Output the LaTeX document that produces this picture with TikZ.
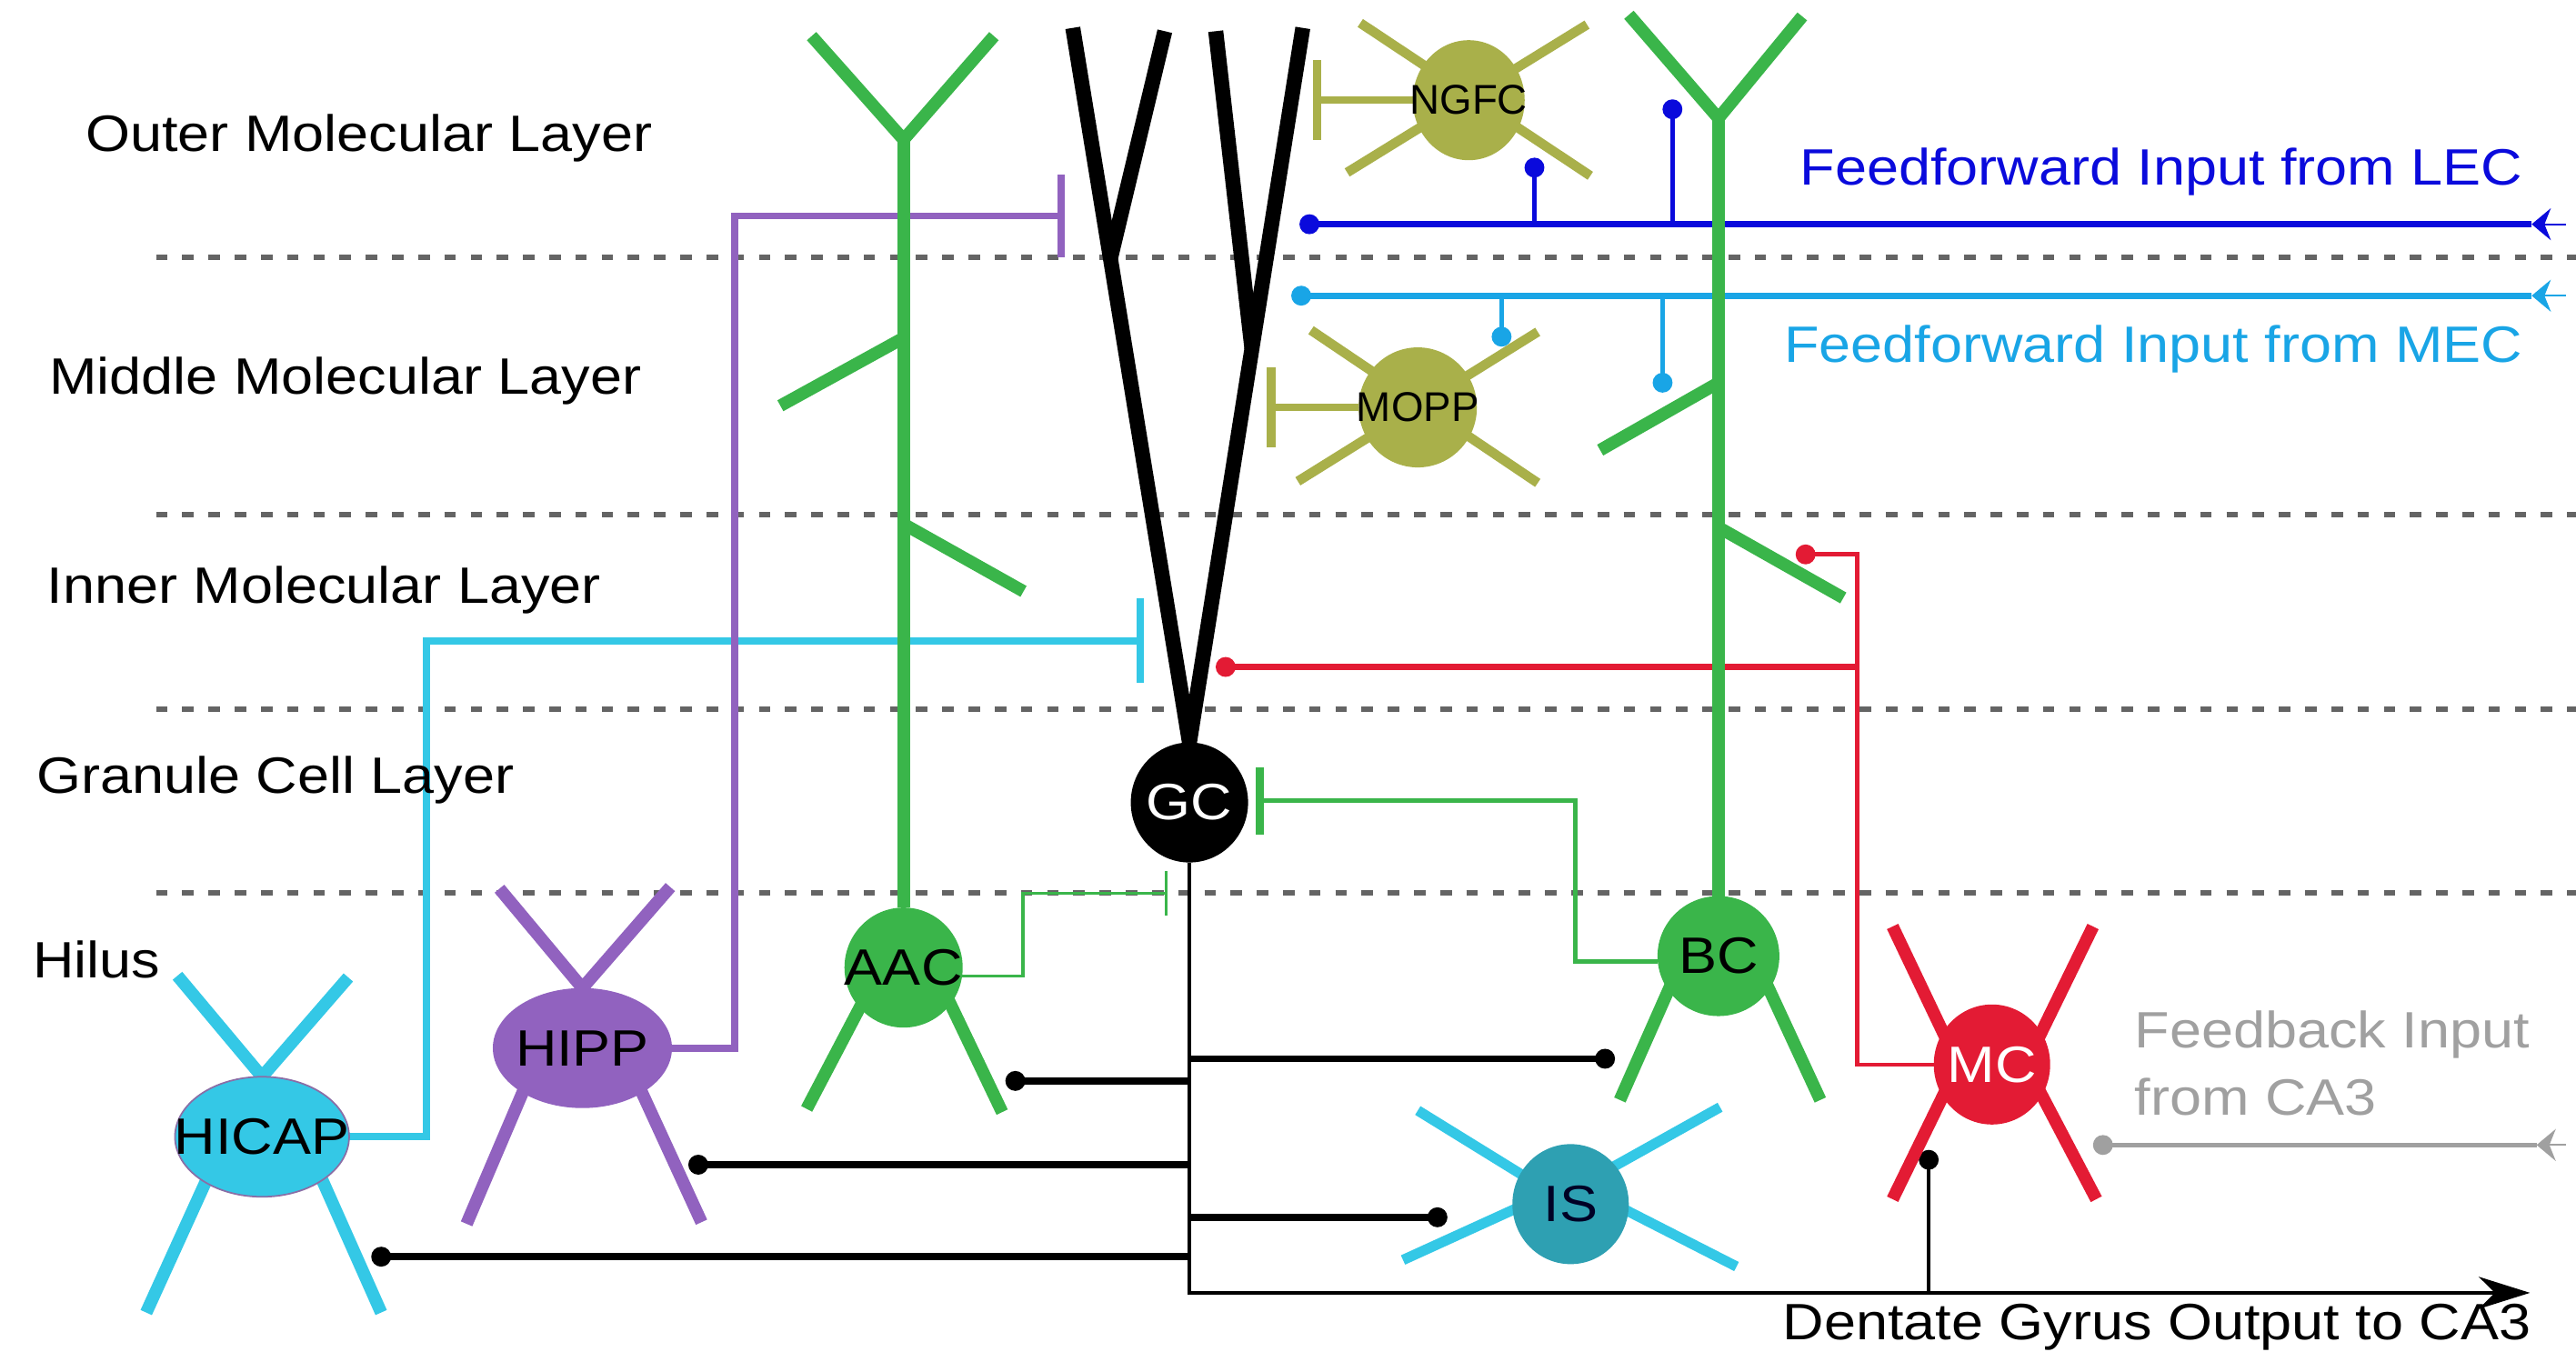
\documentclass[tikz,border=0pt]{standalone}
\usepackage{fontspec}
\setmainfont{Liberation Sans}[FakeStretch=1.12]
\newfontfamily\smallcellfont{Liberation Sans}
\usetikzlibrary{arrows.meta,shapes.geometric,backgrounds,calc}

% cell and pathway colours
\definecolor{dggreen}{HTML}{3AB54A}
\definecolor{dgolive}{HTML}{A9B04A}
\definecolor{dgviolet}{HTML}{9162BF}
\definecolor{dgcyan}{HTML}{34C8E6}
\definecolor{dgteal}{HTML}{2EA0B2}
\definecolor{dgred}{HTML}{E31B34}
\definecolor{lecblue}{HTML}{0A0ADC}
\definecolor{mecblue}{HTML}{19A5E6}
\definecolor{ca3grey}{HTML}{A0A0A0}
\definecolor{layergrey}{HTML}{646464}

\tikzset{
  cell/.style={ellipse, fill=#1, inner sep=0pt, outer sep=0pt,
    minimum width=1.3cm, minimum height=1.32cm,
    font=\fontsize{16}{19}\selectfont},
  smallcell/.style={cell=#1, font=\smallcellfont\fontsize{13}{15}\selectfont},
  dendrite/.style={draw=#1, line width=3.9pt},
  axon/.style={draw=#1, line width=2.2pt},
  thinaxon/.style={draw=#1, line width=1.3pt},
  mossy/.style={draw=black, line width=2.2pt},
  inputline/.style={draw=#1, line width=1.9pt},
  boundary/.style={draw=layergrey, line width=1.7pt, dash pattern=on 3.6pt off 4.6pt},
  labeltext/.style={inner sep=0pt, font=\fontsize{16}{19}\selectfont},
  synapse/.style={-{Circle[length=6.2pt]}},
  inhib/.style={-{Bar[width=#1]}},
  inarrow/.style={-{Stealth[length=6pt, width=10pt, inset=2pt]}},
}

\begin{document}
\begin{tikzpicture}[x=0.018068cm, y=-0.018068cm]
    \useasboundingbox (0,0) rectangle (1568,823);

    % Cell bodies (text kept in a zero-width box so the ellipse keeps its size)
    \node[cell=dgcyan, draw=dgviolet!60!gray, line width=0.5pt, minimum width=1.915cm] (hicap) at (159.5,692) {\makebox[0pt]{HICAP}};
    \node[cell=dgviolet, minimum width=1.97cm] (hipp) at (354.5,638) {\makebox[0pt]{HIPP}};
    \node[cell=dggreen] (aac) at (550,589) {\makebox[0pt]{AAC}};
    \node[cell=black, text=white, minimum width=1.29cm] (gc) at (724,488.5) {\makebox[0pt]{GC}};
    \node[cell=dggreen, minimum width=1.34cm] (bc) at (1046,582) {\makebox[0pt]{BC}};
    \node[cell=dgred, text=white, minimum width=1.28cm] (mc) at (1212.5,648) {\makebox[0pt]{MC}};
    \node[cell=dgteal, text=black!85!blue, minimum width=1.28cm] (is) at (956,733) {\makebox[0pt]{IS}};
    \node[smallcell=dgolive, minimum width=1.23cm] (ngfc) at (894,61) {\makebox[0pt]{NGFC}};
    \node[smallcell=dgolive] (mopp) at (863,248) {\makebox[0pt]{MOPP}};

    % Ends of the input fibres
    \coordinate (lec in)   at (1562,136.5);
    \coordinate (lec tip)  at (1541,136.5);
    \coordinate (lec end)  at (791,136.5);
    \coordinate (lec ngfc) at (934,96);
    \coordinate (lec bc)   at (1018,60.5);
    \coordinate (mec in)   at (1562,180);
    \coordinate (mec tip)  at (1541,180);
    \coordinate (mec end)  at (786,180);
    \coordinate (mec mopp) at (914,211);
    \coordinate (mec bc)   at (1012,239);
    \coordinate (ca3 in)   at (1562,697);
    \coordinate (ca3 tip)  at (1544,697);
    \coordinate (ca3 end)  at (1274,697);
    \coordinate (dg out)   at (1540,787);

    % Synapse sites
    \coordinate (hicap syn) at (696,390);
    \coordinate (hipp syn)  at (648,131.5);
    \coordinate (aac syn)   at (710.5,544);
    \coordinate (bc syn)    at (764.5,487.5);
    \coordinate (ngfc syn)  at (799,61);
    \coordinate (mopp syn)  at (771,248);
    \coordinate (mc gc)     at (740,406);
    \coordinate (mc bc)     at (1093,337.5);
    \coordinate (gc aac)    at (612,658);
    \coordinate (gc bc)     at (983,644.5);
    \coordinate (gc hipp)   at (419,709);
    \coordinate (gc is)     at (881,741);
    \coordinate (gc hicap)  at (226,765);
    \coordinate (gc mc)     at (1174,700);
    \coordinate (mc turn)   at ($(mc.west)+(-46.5,0)$);

    \begin{scope}[on background layer]
        % Layer boundaries
        \foreach \y in {156.7,313.1,431.7,543.6}
            \draw[boundary] (95,\y) -- (1568,\y);

        % Entorhinal and CA3 inputs
        \draw[inputline=lecblue, line width=0.6pt, inarrow] (lec in) -- (lec tip);
        \draw[inputline=lecblue, synapse] (lec tip) -- (lec end);
        \draw[inputline=lecblue, line width=1.3pt, synapse] (lec ngfc |- lec end) -- (lec ngfc);
        \draw[inputline=lecblue, line width=1.3pt, synapse] (lec bc |- lec end) -- (lec bc);
        \draw[inputline=mecblue, line width=0.6pt, inarrow] (mec in) -- (mec tip);
        \draw[inputline=mecblue, synapse] (mec tip) -- (mec end);
        \draw[inputline=mecblue, line width=1.2pt, synapse] (mec mopp |- mec end) -- (mec mopp);
        \draw[inputline=mecblue, line width=1.2pt, synapse] (mec bc |- mec end) -- (mec bc);
        \draw[inputline=ca3grey, line width=0.6pt, inarrow] (ca3 in) -- (ca3 tip);
        \draw[inputline=ca3grey, line width=1.4pt, synapse] (ca3 tip) -- (ca3 end);

        % Interneuron axons onto the granule cell
        \draw[axon=dgcyan, inhib=26.6pt] (hicap.east) -- ++(47,0) |- (hicap syn);
        \draw[axon=dgviolet, inhib=26pt] (hipp.east) -- ++(38,0) |- (hipp syn);
        \draw[thinaxon=dggreen, line width=0.9pt, inhib=14pt] (aac.-8) -- ++(37,0) |- (aac syn);
        \draw[thinaxon=dggreen, line width=1.5pt, -{Bar[width=21pt, line width=2.4pt]}] (bc.185) -- ++(-50,0) |- (bc syn);
        \draw[axon=dgolive, -{Bar[width=25pt, line width=2.8pt]}] (ngfc.west) -- (ngfc syn);
        \draw[axon=dgolive, -{Bar[width=25pt, line width=2.8pt]}] (mopp.west) -- (mopp syn);

        % Mossy cell axon
        \draw[thinaxon=dgred, synapse] (mc.west) -- (mc turn) |- (mc bc);
        \draw[axon=dgred, line width=1.8pt, synapse] (mc turn |- mc gc) -- (mc gc);

        % Granule cell axon and its collaterals
        \draw[mossy, line width=1.3pt, -{Stealth[length=16pt, width=10pt, inset=5pt]}] (gc.south) |- (dg out);
        \foreach \t in {gc aac, gc bc, gc hipp, gc is, gc hicap}
            \draw[mossy, synapse] (gc.south |- \t) -- (\t);
        \draw[mossy, line width=1.3pt, synapse] (gc mc |- dg out) -- (gc mc);

        % Dendrites
        \draw[dendrite=dgcyan] (108,594) -- (hicap.north) -- (212,595);
        \draw[dendrite=dgcyan] (89,799) -- (134.5,699);
        \draw[dendrite=dgcyan] (232,799) -- (188,700);

        \draw[dendrite=dgviolet] (304,541) -- (hipp.north) -- (408,540);
        \draw[dendrite=dgviolet] (284,745) -- (325.6,647.5);
        \draw[dendrite=dgviolet] (427,744) -- (382.8,647.8);

        \draw[dendrite=dggreen] (aac.north) -- (550,85);
        \draw[dendrite=dggreen] (494,22) -- (550,85) -- (605,22);
        \draw[dendrite=dggreen] (550,205.7) -- (475,247);
        \draw[dendrite=dggreen] (550,319) -- (623,360);
        \draw[dendrite=dggreen] (491,675) -- (534,593);
        \draw[dendrite=dggreen] (610,677) -- (568.4,590);

        \draw[dendrite=black, line width=4.7pt] (653,17) -- (gc.north) -- (793,17);
        \draw[dendrite=black, line width=4.7pt] (709,19) -- (676,157);
        \draw[dendrite=black, line width=4.7pt] (740,19) -- (762,212);

        \draw[dendrite=dggreen] (bc.north) -- (1046,72);
        \draw[dendrite=dggreen] (991.5,9) -- (1046,72) -- (1097,10);
        \draw[dendrite=dggreen] (1046,233) -- (974,274);
        \draw[dendrite=dggreen] (1046,321) -- (1122,364);
        \draw[dendrite=dggreen] (986,669.6) -- (1026.3,578.5);
        \draw[dendrite=dggreen] (1108,669.6) -- (1067,581);

        \draw[dendrite=dgred] (1152,564) -- (1192,648) -- (1152,730);
        \draw[dendrite=dgred] (1274,564) -- (1233,648) -- (1276,730);

        \draw[dendrite=dgcyan, line width=3.2pt] (863,676) -- (944,726) -- (854,767);
        \draw[dendrite=dgcyan, line width=3.2pt] (1047,674) -- (961,722) -- (1057,771);

        \draw[dendrite=dgolive, line width=3pt] (828,14) -- (968,107);
        \draw[dendrite=dgolive, line width=3pt] (966,15) -- (820,105);
        \draw[dendrite=dgolive, line width=3pt] (798,201) -- (936,294);
        \draw[dendrite=dgolive, line width=3pt] (936,202) -- (790,293);
    \end{scope}

    % Layer names
    \node[labeltext, anchor=base west] (oml) at (51.7,92) {Outer Molecular Layer};
    \node[labeltext, anchor=base west] (mml) at (29.7,240) {Middle Molecular Layer};
    \node[labeltext, anchor=base west] (iml) at (28.2,367.4) {Inner Molecular Layer};
    \node[labeltext, anchor=base west] (gcl) at (22,483) {Granule Cell Layer};
    \node[labeltext, anchor=base west] (hilus) at (19.8,595.5) {Hilus};

    % Input and output names
    \node[labeltext, anchor=base east, text=lecblue] (lec label) at (1536,112.5) {Feedforward Input from LEC};
    \node[labeltext, anchor=base east, text=mecblue] (mec label) at (1536,220.5) {Feedforward Input from MEC};
    \node[labeltext, anchor=base west, text=ca3grey] (ca3 label) at (1299,638) {Feedback Input};
    \node[labeltext, anchor=base west, text=ca3grey] (ca3 label2) at (1299,678.6) {from CA3};
    \node[labeltext, anchor=base east] (dg label) at (1541,815.3) {Dentate Gyrus Output to CA3};
\end{tikzpicture}
\end{document}
